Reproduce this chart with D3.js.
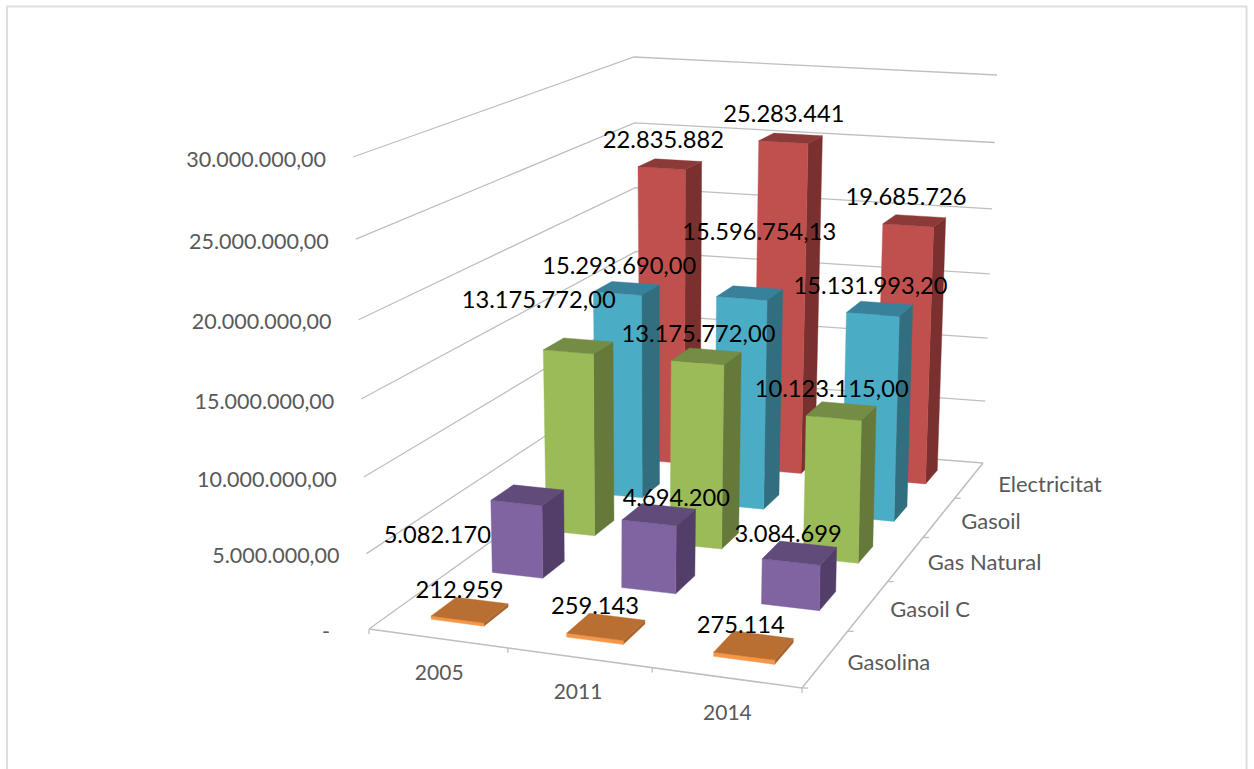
<!DOCTYPE html>
<html><head><meta charset="utf-8">
<script src="https://cdn.jsdelivr.net/npm/d3@7"></script>
<style>html,body{margin:0;padding:0;background:#fff}svg{display:block}text{font-family:Lato,"Noto Sans",sans-serif}</style>
</head><body><svg id="c" width="1254" height="769"></svg>
<script>
const categories = ["2005","2011","2014"];
const seriesNames = ["Gasolina","Gasoil C","Gas Natural","Gasoil","Electricitat"];
const gasolina = [212959,259143,275114];
const gasoilC = [5082170,4694200,3084699];
const gasNatural = [13175772,13175772,10123115];
const gasoil = [15293690,15596754.13,15131993.2];
const electricitat = [22835882,25283441,19685726];
const seriesValues = [gasolina,gasoilC,gasNatural,gasoil,electricitat];
const yTicks = [0,5000000,10000000,15000000,20000000,25000000,30000000];
const seriesFormat = [",.0f",",.0f",",.2f",",.2f",",.0f"];
const faceColors = [
 {front:"#F79646",side:"#A9652E",top:"#B86F31"},
 {front:"#8064A2",side:"#523E69",top:"#604B7A"},
 {front:"#9BBB59",side:"#657A3A",top:"#748C43"},
 {front:"#4BACC6",side:"#306E80",top:"#38819A"},
 {front:"#C0504D",side:"#7A302E",top:"#8C3A38"}];
// hand-moved data labels: [series, category, dx, dy]
const labelNudges = [[3,1,17,-38],[2,0,-32,-24],[1,0,-81,59],[1,1,27,3]];
const labelDy = [-21,-20,-23,-23.5,-25];
const depthLabelDx = [22,22,22,22,29];
const barShift = [-0.004,-0.003,0.001];
const rowShift = [0.010,0.007,0.003,0.002,0];

const loc = d3.formatLocale({decimal:",",thousands:".",grouping:[3],currency:["",""]});
function quad(p0,p1,p2,p3){
  const dx1=p1[0]-p2[0],dy1=p1[1]-p2[1],dx2=p3[0]-p2[0],dy2=p3[1]-p2[1],
        sx=p0[0]-p1[0]+p2[0]-p3[0],sy=p0[1]-p1[1]+p2[1]-p3[1],
        det=dx1*dy2-dx2*dy1,
        g=(sx*dy2-dx2*sy)/det,h=(dx1*sy-sx*dy1)/det,
        a=p1[0]-p0[0]+g*p1[0],b=p3[0]-p0[0]+h*p3[0],
        d=p1[1]-p0[1]+g*p1[1],e=p3[1]-p0[1]+h*p3[1];
  return (u,v)=>{const w=1+g*u+h*v;return [(a*u+b*v+p0[0])/w,(d*u+e*v+p0[1])/w];};
}
const floorQ = quad([369,629],[802,688],[983,463],[638,436]);
const topQ   = quad([353,157],[811,186],[997,75],[634,57]);
const yScale = d3.scaleLinear().domain([0,30000000]).range([0,1]);
const persp = 0.95;
function P(u,v,val){
  const h=yScale(val), t=h*persp/(1+h*(persp-1));
  const a=floorQ(u,v), b=topQ(u,v);
  return [a[0]+(b[0]-a[0])*t, a[1]+(b[1]-a[1])*t];
}
const xBand = d3.scaleBand().domain(categories).range([0,1]);
const zBand = d3.scaleBand().domain(seriesNames).range([0,1]);
const barW = 0.133, barD = 0.078;
const svg = d3.select("#c");
const line = d3.line();
svg.append("rect").attr("x",7).attr("y",6.5).attr("width",1239.5).attr("height",800)
   .attr("fill","#fff").attr("stroke","#DEDEDE").attr("stroke-width",2);

const gridColor="#BFBFBF";
const grid = svg.append("g").attr("fill","none").attr("stroke",gridColor).attr("stroke-width",1.3);
yTicks.forEach(t=>{
  grid.append("path").attr("d",line([P(0,0,t),P(0,1,t),P(1,1,t)]));
});
grid.append("path").attr("d",line([P(0,0,0),P(1,0,0),P(1,1,0)])).attr("stroke-width",1.6);
// tick marks
categories.forEach((c,i)=>{const p=floorQ(i/3+(i?0.012:0),0);grid.append("path").attr("d",line([p,[p[0],p[1]+5]]));});
grid.append("path").attr("d",line([floorQ(1,0),[floorQ(1,0)[0],floorQ(1,0)[1]+5]]));
seriesNames.forEach((s,i)=>{const p=floorQ(1,i/5);grid.append("path").attr("d",line([p,[p[0]+6,p[1]]]));});

// axis labels
const axisG = svg.append("g").attr("fill","#595959");
const yFmt = v=> v===0 ? "-" : loc.format(",.2f")(v);
yTicks.forEach(t=>{
  const p=P(0,0,t);
  axisG.append("text").attr("x",p[0]-(t===0?39:27)).attr("y",p[1]+1.5).attr("text-anchor","end")
    .attr("font-size",21.5).attr("dominant-baseline","central").text(yFmt(t));
});
categories.forEach(c=>{
  const p=floorQ(xBand(c)+xBand.bandwidth()/2,0);
  axisG.append("text").attr("x",p[0]+4.5).attr("y",p[1]+34).attr("text-anchor","middle")
    .attr("font-size",21).attr("dominant-baseline","central").text(c);
});
seriesNames.forEach((s,i)=>{
  const p=floorQ(1,zBand(s)+zBand.bandwidth()/2);
  axisG.append("text").attr("x",p[0]+depthLabelDx[i]).attr("y",p[1]+3)
    .attr("font-size",22).attr("dominant-baseline","central").text(s);
});

// bars, back row first
const bars = svg.append("g");
d3.range(seriesNames.length-1,-1,-1).forEach(si=>{
  const col=faceColors[si], vc=zBand(seriesNames[si])+zBand.bandwidth()/2;
  categories.forEach((c,ci)=>{
    const uc=xBand(c)+xBand.bandwidth()/2+barShift[ci]+rowShift[si], val=seriesValues[si][ci];
    const u0=uc-barW/2,u1=uc+barW/2,v0=vc-barD/2,v1=vc+barD/2;
    bars.append("path").attr("d",line([P(u1,v0,0),P(u1,v1,0),P(u1,v1,val),P(u1,v0,val)])+"Z").attr("fill",col.side).attr("stroke",col.side).attr("stroke-width",.4);
    bars.append("path").attr("d",line([P(u0,v0,0),P(u1,v0,0),P(u1,v0,val),P(u0,v0,val)])+"Z").attr("fill",col.front).attr("stroke",col.front).attr("stroke-width",.4);
    bars.append("path").attr("d",line([P(u0,v0,val),P(u1,v0,val),P(u1,v1,val),P(u0,v1,val)])+"Z").attr("fill",col.top).attr("stroke",col.top).attr("stroke-width",.4);
  });
});

// data labels
const labels = svg.append("g").attr("fill","#000").attr("font-size",23.7);
seriesNames.forEach((s,si)=>{
  const vc=zBand(s)+zBand.bandwidth()/2;
  categories.forEach((c,ci)=>{
    const uc=xBand(c)+xBand.bandwidth()/2, val=seriesValues[si][ci];
    const p=P(uc,vc,val);
    const n=labelNudges.find(k=>k[0]===si&&k[1]===ci)||[0,0,0,0];
    labels.append("text").attr("x",p[0]-8+n[2]).attr("y",p[1]+labelDy[si]+n[3]).attr("text-anchor","middle")
      .attr("dominant-baseline","central").text(loc.format(seriesFormat[si])(val));
  });
});
</script></body></html>
